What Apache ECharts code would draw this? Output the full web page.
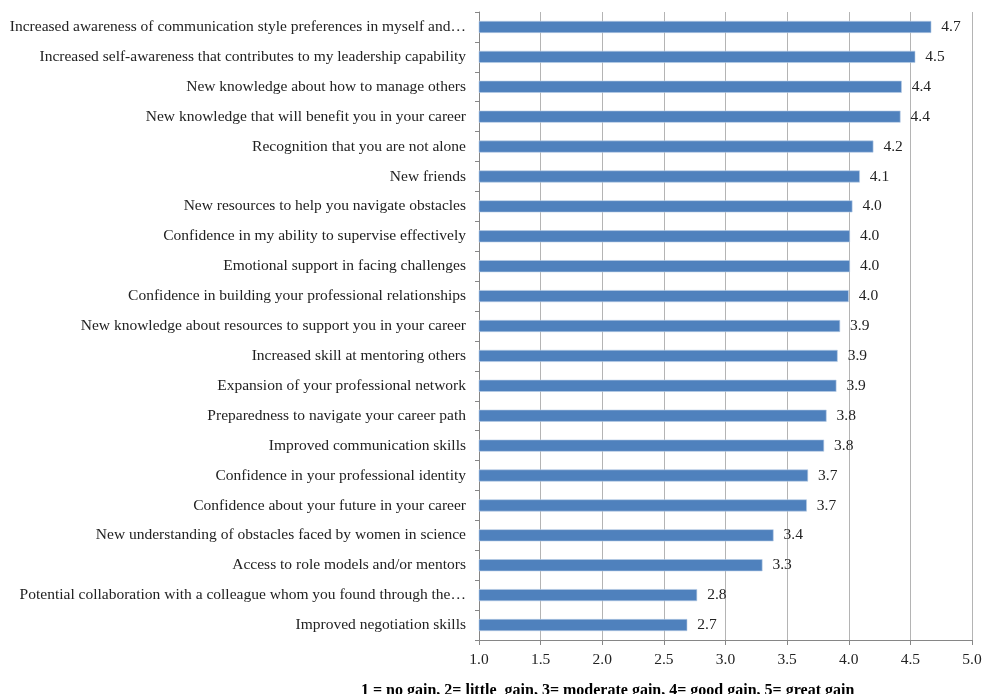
<!DOCTYPE html>
<html>
<head>
<meta charset="utf-8">
<script src="https://cdn.jsdelivr.net/npm/echarts@6/dist/echarts.min.js"></script>
<style>html,body{margin:0;padding:0;background:#fff}#c{width:984px;height:694px}</style>
</head>
<body>
<div id="c"></div>
<script>
const categories = [
  "Increased awareness of communication style preferences in myself and…",
  "Increased self-awareness that contributes to my leadership capability",
  "New knowledge about how to manage others",
  "New knowledge that will benefit you in your career",
  "Recognition that you are not alone",
  "New friends",
  "New resources to help you navigate obstacles",
  "Confidence in my ability to supervise effectively",
  "Emotional support in facing challenges",
  "Confidence in building your professional relationships",
  "New knowledge about resources to support you in your career",
  "Increased skill at mentoring others",
  "Expansion of your professional network",
  "Preparedness to navigate your career path",
  "Improved communication skills",
  "Confidence in your professional identity",
  "Confidence about your future in your career",
  "New understanding of obstacles faced by women in science",
  "Access to role models and/or mentors",
  "Potential collaboration with a colleague whom you found through the…",
  "Improved negotiation skills"
];
const values = [4.67, 4.54, 4.43, 4.42, 4.20, 4.09, 4.03, 4.01, 4.01, 4.00, 3.93, 3.91, 3.90, 3.82, 3.80, 3.67, 3.66, 3.39, 3.30, 2.77, 2.69];
const xTicks = { min: 1, max: 5, interval: 0.5 };
const axisTitle = "1 = no gain, 2= little  gain, 3= moderate gain, 4= good gain, 5= great gain";

const serif = "'Liberation Serif', 'Times New Roman', serif";
const chart = echarts.init(document.getElementById('c'), null, { renderer: 'canvas' });
chart.setOption({
  animation: false,
  backgroundColor: '#fff',
  grid: { left: 479, right: 12, top: 12, bottom: 54, containLabel: false, outerBoundsMode: 'none' },
  title: {
    text: axisTitle, left: 356, top: 678,
    textStyle: { fontFamily: serif, fontSize: 16, fontWeight: 'bold', color: '#000' }
  },
  xAxis: {
    type: 'value', min: xTicks.min, max: xTicks.max, interval: xTicks.interval,
    axisLine: { show: true, lineStyle: { color: '#868686', width: 1 } },
    axisTick: { show: true, length: 5, lineStyle: { color: '#868686' } },
    axisLabel: { fontFamily: serif, fontSize: 15.5, color: '#222', margin: 12,
      formatter: v => v.toFixed(1) },
    splitLine: { show: true, lineStyle: { color: '#B4B4B4', width: 1 } }
  },
  yAxis: {
    type: 'category', data: categories, inverse: true,
    axisLine: { show: true, lineStyle: { color: '#868686', width: 1 } },
    axisTick: { show: true, length: 4, lineStyle: { color: '#868686' } },
    axisLabel: { fontFamily: serif, fontSize: 15.5, color: '#222', margin: 13 },
    splitLine: { show: false }
  },
  series: [{
    type: 'bar', data: values, barWidth: 12,
    itemStyle: { color: '#4F81BD', borderColor: '#B9CDE5', borderWidth: 0.6 },
    label: { show: true, position: 'right', distance: 10, fontFamily: serif, fontSize: 15.5, color: '#222',
      formatter: p => p.value.toFixed(1) }
  }]
});
</script>
</body>
</html>
